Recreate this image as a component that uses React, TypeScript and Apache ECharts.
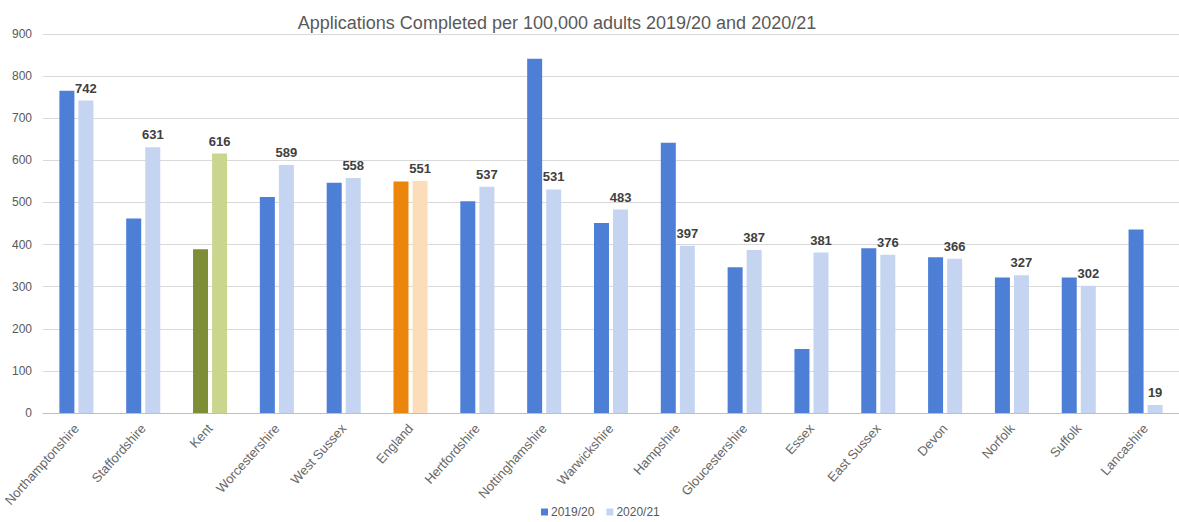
import React, { useEffect, useRef } from "react";
import * as echarts from "echarts";

const categories = [
  "Northamptonshire", "Staffordshire", "Kent", "Worcestershire", "West Sussex", "England",
  "Hertfordshire", "Nottinghamshire", "Warwickshire", "Hampshire", "Gloucestershire", "Essex",
  "East Sussex", "Devon", "Norfolk", "Suffolk", "Lancashire",
];
const values2019 = [765, 462, 389, 513, 547, 550, 503, 841, 451, 642, 346, 152, 391, 370, 322, 322, 436];
const values2020 = [742, 631, 616, 589, 558, 551, 537, 531, 483, 397, 387, 381, 376, 366, 327, 302, 19];

const darkBlue = "#4E7FD7";
const lightBlue = "#C5D5F1";
const specialDark: Record<string, string> = { Kent: "#7E8E37", England: "#EB850C" };
const specialLight: Record<string, string> = { Kent: "#CAD68E", England: "#FBDDBA" };

export default function App() {
  const ref = useRef<HTMLDivElement>(null);
  useEffect(() => {
    document.body.style.margin = "0";
    const chart = echarts.init(ref.current!, null, { renderer: "svg" });
    const font = "'Liberation Sans', Arial, sans-serif";
    chart.setOption({
      animation: false,
      backgroundColor: "#ffffff",
      title: {
        text: "Applications Completed per 100,000 adults 2019/20 and 2020/21",
        left: 552,
        textAlign: "center",
        top: 9,
        textStyle: { fontFamily: font, fontSize: 18, fontWeight: "normal", color: "#595959" },
      },
      legend: {
        top: 506,
        left: 541,
        padding: 0,
        itemWidth: 7,
        itemHeight: 7,
        itemGap: 12,
        icon: "rect",
        textStyle: { fontFamily: font, fontSize: 12, color: "#595959", padding: [0, 0, 0, -2] },
        data: [
          { name: "2019/20", itemStyle: { color: darkBlue } },
          { name: "2020/21", itemStyle: { color: lightBlue } },
        ],
      },
      grid: { left: 43, top: 34, width: 1139, height: 379, containLabel: false },
      xAxis: {
        type: "category",
        data: categories,
        axisTick: { show: false },
        axisLine: { lineStyle: { color: "#bfbfbf", width: 1 } },
        axisLabel: {
          interval: 0,
          rotate: 48,
          margin: 13,
          fontFamily: font,
          fontSize: 13,
          color: "#666666",
        },
      },
      yAxis: {
        type: "value",
        min: 0,
        max: 900,
        interval: 100,
        axisLine: { show: false },
        axisTick: { show: false },
        splitLine: { lineStyle: { color: "#d9d9d9", width: 1 } },
        axisLabel: { fontFamily: font, fontSize: 12, color: "#595959", margin: 11 },
      },
      series: [
        {
          name: "2019/20",
          type: "bar",
          barWidth: 15,
          barGap: "27%",
          data: values2019.map((v, i) => ({
            value: v,
            itemStyle: { color: specialDark[categories[i]] || darkBlue },
          })),
        },
        {
          name: "2020/21",
          type: "bar",
          barWidth: 15,
          data: values2020.map((v, i) => ({
            value: v,
            itemStyle: { color: specialLight[categories[i]] || lightBlue },
          })),
          label: {
            show: true,
            position: "top",
            distance: 6,
            fontFamily: font,
            fontSize: 13,
            fontWeight: "bold",
            color: "#404040",
          },
        },
      ],
    });
    return () => chart.dispose();
  }, []);
  return <div ref={ref} style={{ width: 1179, height: 522 }} />;
}
